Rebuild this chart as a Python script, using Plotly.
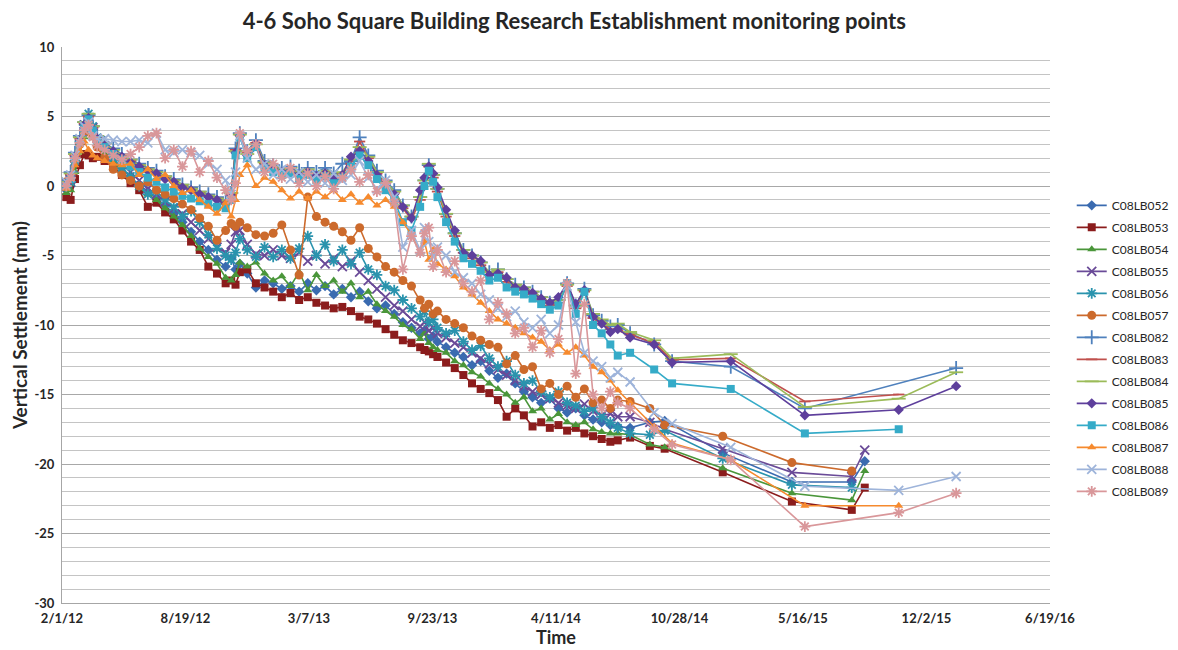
import plotly.graph_objects as go

# ---------------- data ----------------
dense_dates = [
    '2012-02-08', '2012-02-15', '2012-02-22', '2012-03-01', '2012-03-08', '2012-03-15',
    '2012-03-22', '2012-03-29', '2012-04-10', '2012-04-24', '2012-05-08', '2012-05-22',
    '2012-06-05', '2012-06-19', '2012-07-03', '2012-07-17', '2012-07-31', '2012-08-14',
    '2012-08-28', '2012-09-11', '2012-09-25', '2012-10-09', '2012-10-23', '2012-11-01',
    '2012-11-08', '2012-11-15', '2012-11-27', '2012-12-11', '2012-12-25', '2013-01-08',
    '2013-01-22', '2013-02-05', '2013-02-19', '2013-03-05', '2013-03-19', '2013-04-02',
    '2013-04-16', '2013-04-30', '2013-05-14', '2013-05-28', '2013-06-11', '2013-06-25',
    '2013-07-09', '2013-07-23', '2013-08-06', '2013-08-20', '2013-09-03', '2013-09-10',
    '2013-09-17', '2013-09-24', '2013-10-01', '2013-10-15', '2013-10-29', '2013-11-12',
    '2013-11-26', '2013-12-10', '2013-12-24', '2014-01-07', '2014-01-21', '2014-02-04',
    '2014-02-18', '2014-03-04', '2014-03-18', '2014-04-01', '2014-04-15', '2014-04-29',
    '2014-05-13', '2014-05-27', '2014-06-10', '2014-06-24', '2014-07-08', '2014-07-20',
]
tail_dates_a = ['2014-08-09', '2014-09-10', '2014-10-04', '2015-01-06',
                '2015-04-28', '2015-08-03', '2015-08-24']
tail_dates_b = ['2014-08-09', '2014-09-17', '2014-10-16', '2015-01-19',
                '2015-05-19', '2015-10-18', '2016-01-19']

c052 = [-0.3, 0.0, 1.5, 3.0, 4.2, 5.0, 4.0, 3.2, 2.6, 1.9, 1.3, 0.6,
        0.1, -0.4, -0.9, -1.4, -2.0, -2.6, -3.3, -4.0, -4.6, -5.3, -5.8, -5.2,
        -6.0, -5.6, -6.3, -7.3, -6.8, -7.0, -7.4, -7.2, -7.6, -7.0, -7.5, -7.2,
        -7.8, -7.4, -8.0, -7.6, -8.3, -8.8, -8.6, -9.2, -9.8, -10.2, -10.6, -10.4,
        -11.0, -10.8, -11.2, -11.6, -12.0, -12.3, -12.9, -12.6, -13.3, -13.8, -13.5, -14.2,
        -14.8, -15.2, -15.6, -15.3, -16.0, -16.3, -16.0, -16.5, -16.8, -17.0, -17.2, -17.3,
        -17.4, -17.0, -16.9, -19.2, -21.3, -21.3, -19.8]
c053 = [-0.8, -1.0, 0.5, 1.5, 2.3, 2.2, 2.0, 2.1, 1.8, 1.4, 0.8, 0.2,
        -0.3, -1.5, -1.2, -1.9, -2.4, -3.2, -4.0, -4.6, -5.8, -6.3, -7.0, -6.8,
        -7.1, -6.2, -6.0, -7.0, -7.3, -7.6, -8.0, -7.7, -8.2, -8.0, -8.4, -8.6,
        -8.8, -8.7, -9.0, -9.4, -9.6, -9.9, -10.3, -10.7, -11.1, -11.3, -11.6, -11.8,
        -11.9, -12.1, -12.3, -12.7, -13.1, -13.6, -14.2, -14.6, -14.9, -15.4, -16.6, -16.0,
        -16.5, -17.3, -17.0, -17.4, -17.2, -17.6, -17.4, -17.8, -18.0, -18.2, -18.4, -18.3,
        -18.1, -18.7, -18.9, -20.6, -22.7, -23.3, -21.7]
c054 = [-0.5, -0.3, 1.0, 2.5, 3.5, 4.6, 3.5, 2.8, 2.3, 1.8, 1.0, 0.5,
        -0.1, -0.6, -1.0, -1.6, -2.2, -2.8, -3.6, -4.5, -5.1, -5.6, -6.6, -6.8,
        -6.4, -5.5, -5.8, -5.5, -6.3, -6.8, -6.5, -7.2, -6.2, -7.5, -6.4, -7.2,
        -6.8, -7.6, -7.0, -8.0, -7.6, -8.5, -9.0, -9.4, -10.0, -10.3, -11.0, -10.6,
        -11.3, -11.6, -11.8, -12.0, -12.6, -12.9, -13.4, -13.7, -14.2, -14.6, -15.0, -15.6,
        -15.2, -16.2, -16.0, -16.8, -16.4, -17.0, -17.2, -17.0, -17.5, -17.7, -17.8, -17.8,
        -17.9, -18.6, -18.8, -20.3, -22.1, -22.6, -20.5]
c055 = [0.2, 0.5, 2.0, 3.3, 4.4, 4.8, 4.2, 3.4, 2.9, 2.2, 1.6, 1.0,
        0.4, -0.2, -0.6, -1.1, -1.6, -2.0, -2.6, -3.2, -3.8, -4.4, -4.8, -4.2,
        -3.3, -3.2, -4.2, -4.9, -5.0, -4.6, -5.0, -5.2, -4.8, -5.4, -5.0, -5.6,
        -5.2, -5.8, -5.4, -6.2, -6.8, -7.4, -8.0, -8.6, -9.0, -9.6, -10.1, -9.8,
        -10.4, -10.2, -10.6, -10.9, -11.3, -11.6, -12.0, -12.4, -12.8, -13.2, -13.6, -14.0,
        -14.4, -14.8, -15.0, -15.3, -15.6, -15.8, -16.0, -15.7, -16.2, -16.5, -16.4, -16.6,
        -16.6, -17.0, -17.5, -18.9, -20.6, -20.9, -19.0]
c056 = [0.0, 0.3, 1.8, 3.2, 4.4, 5.2, 4.3, 3.5, 2.8, 2.0, 1.3, 0.7,
        0.0, -0.6, -0.4, -1.0, -1.5, -2.2, -1.8, -2.6, -3.5, -4.5, -5.0, -5.3,
        -4.8, -3.8, -4.6, -5.1, -4.4, -5.1, -4.6, -5.2, -4.5, -3.6, -5.0, -4.2,
        -5.4, -4.6, -5.6, -4.8, -6.0, -6.4, -7.2, -7.5, -8.2, -8.8, -9.4, -9.0,
        -9.8, -9.6, -10.2, -10.6, -10.4, -11.2, -11.8, -11.5, -12.4, -13.0, -12.6, -13.6,
        -14.2, -14.0, -14.8, -15.2, -14.8, -15.6, -15.8, -16.2, -16.0, -16.6, -17.0, -17.4,
        -17.8, -17.9, -17.6, -19.6, -21.5, -21.7, None]
c057 = [0.3, 0.6, 1.8, 3.0, 3.8, 4.3, 3.6, 2.8, 2.0, 1.2, 0.8, 0.4,
        0.0, 0.3, -0.3, -0.6, -0.9, -1.3, -1.7, -2.3, -2.9, -3.9, -3.2, -2.7,
        -2.9, -2.6, -3.0, -3.5, -3.6, -3.4, -2.8, -4.6, -6.4, -0.8, -2.2, -2.6,
        -2.9, -3.3, -3.9, -3.0, -4.5, -5.1, -5.8, -6.2, -6.8, -7.2, -8.2, -8.8,
        -8.5, -9.2, -9.0, -9.6, -9.9, -10.2, -10.8, -11.1, -11.4, -11.6, -12.8, -12.2,
        -13.2, -13.0, -14.6, -14.2, -15.0, -14.4, -15.2, -14.6, -15.6, -15.4, -16.0, -15.4,
        -15.5, -16.0, -17.2, -18.0, -19.9, -20.5, None]
c082 = [0.4, 1.0, 2.4, 3.6, 4.6, 5.1, 4.3, 3.6, 3.1, 2.7, 2.3, 1.9,
        1.6, 1.3, 1.1, 0.7, 0.5, 0.1, -0.1, -0.4, -0.6, -0.8, -1.1, -0.5,
        2.7, 3.8, 2.5, 3.3, 1.8, 1.5, 1.3, 1.4, 1.1, 1.3, 1.0, 1.3,
        0.9, 1.6, 1.8, 3.5, 2.2, 1.1, 0.4, -0.3, -1.4, -2.2, -0.8, 0.4,
        1.5, 0.8, -0.2, -2.0, -3.4, -4.6, -5.0, -5.5, -6.2, -6.0, -6.7, -7.1,
        -7.3, -7.6, -8.0, -8.4, -8.2, -7.0, -8.6, -7.4, -9.3, -9.7, -10.1, -10.0,
        -10.6, -11.4, -12.6, -13.0, -16.0, None, -13.1]
c083 = [0.2, 0.8, 2.2, 3.4, 4.5, 5.0, 4.2, 3.5, 3.0, 2.6, 2.2, 1.8,
        1.5, 1.2, 1.0, 0.6, 0.4, 0.0, -0.2, -0.5, -0.7, -0.9, -1.2, -0.6,
        2.6, 3.7, 2.4, 3.1, 1.6, 1.3, 1.1, 1.2, 0.9, 1.1, 0.8, 1.0,
        0.6, 0.9, 1.6, 3.2, 2.0, 0.9, 0.2, -0.5, -1.6, -2.4, -1.0, 0.2,
        1.4, 0.6, -0.4, -2.2, -3.6, -4.8, -5.2, -5.7, -6.4, -6.2, -6.9, -7.3,
        -7.5, -7.8, -8.2, -8.6, -8.4, -7.2, -8.8, -7.6, -9.5, -9.9, -10.3, -10.4,
        -10.7, -11.3, -12.5, -12.4, -15.5, -15.0, None]
c084 = [0.3, 0.9, 2.3, 3.5, 4.6, 5.2, 4.3, 3.6, 3.1, 2.6, 2.2, 1.9,
        1.5, 1.2, 1.0, 0.7, 0.4, 0.1, -0.2, -0.4, -0.7, -0.9, -1.1, -0.5,
        2.5, 3.7, 2.3, 3.0, 1.7, 1.4, 1.1, 1.3, 1.0, 1.2, 0.8, 1.1,
        0.7, 1.0, 1.9, 2.8, 2.1, 1.0, 0.3, -0.4, -1.4, -2.2, -0.8, 0.4,
        1.6, 0.8, -0.2, -2.0, -3.4, -4.6, -5.0, -5.5, -6.2, -6.0, -6.7, -7.1,
        -7.3, -7.6, -8.0, -8.4, -8.2, -7.1, -8.6, -7.5, -9.2, -9.6, -10.0, -9.9,
        -10.5, -11.1, -12.4, -12.1, -15.9, -15.3, -13.4]
c085 = [0.1, 0.7, 2.1, 3.3, 4.4, 4.9, 4.1, 3.4, 2.9, 2.5, 2.1, 1.7,
        1.4, 1.1, 0.9, 0.5, 0.3, -0.1, -0.3, -0.6, -0.8, -1.0, -1.3, -0.7,
        2.4, 3.6, 2.2, 3.0, 1.5, 1.2, 1.0, 1.1, 0.8, 1.0, 0.7, 0.9,
        0.5, 0.8, 2.1, 2.5, 1.8, 0.8, 0.1, -0.6, -1.5, -2.3, -0.3, 0.6,
        1.4, 0.9, -0.1, -1.7, -3.2, -4.8, -5.0, -5.4, -6.4, -6.3, -6.6, -7.3,
        -7.4, -7.7, -8.1, -8.4, -8.0, -7.0, -8.5, -7.5, -9.4, -9.9, -10.5, -10.3,
        -10.9, -11.4, -12.7, -12.6, -16.5, -16.1, -14.4]
c086 = [0.0, 0.5, 1.9, 3.1, 4.2, 4.8, 4.0, 3.3, 2.8, 2.3, 1.9, 1.4,
        1.0, 0.6, 0.3, -0.1, -0.4, -0.7, -0.9, -1.1, -1.3, -1.5, -1.6, -1.0,
        2.2, 3.5, 2.0, 2.8, 1.3, 1.0, 0.8, 0.9, 0.5, 0.8, 0.4, 0.7,
        0.2, 0.6, 1.4, 2.2, 1.5, 0.5, -0.3, -1.0, -2.6, -3.2, -1.5, 0.0,
        1.1, 0.3, -0.8, -2.6, -4.0, -5.2, -5.6, -6.1, -6.8, -6.6, -7.3, -7.6,
        -7.8, -8.1, -8.5, -8.9, -8.6, -7.0, -9.2, -7.6, -10.0, -10.6, -11.4, -12.2,
        -12.0, -13.2, -14.2, -14.6, -17.8, -17.5, None]
c087 = [-0.2, 0.5, 1.5, 2.5, 3.2, 2.6, 2.2, 2.0, 1.8, 1.6, 1.5, 1.6,
        0.8, 1.2, 0.5, 0.8, 0.0, -0.5, -0.3, -1.0, -1.5, -2.0, -1.2, -2.2,
        -1.0, 0.8, 1.5, 0.0, 0.6, 0.3, -0.3, -0.9, -0.4, -0.9, -0.4, -0.8,
        -0.3, -1.0, -0.6, -1.2, -0.8, -1.4, -1.0, -1.5, -2.6, -3.5, -4.8, -4.0,
        -5.3, -4.6, -5.6, -6.0, -6.5, -7.3, -7.8, -8.4, -9.0, -9.6, -9.9, -10.2,
        -10.6, -10.9, -11.2, -11.8, -11.4, -12.0, -11.6, -12.2, -13.0, -13.4, -14.0, -14.7,
        -15.6, -17.3, -18.5, -19.7, -23.0, -23.0, None]
c088 = [0.3, 0.8, 2.2, 3.4, 4.3, 4.6, 3.6, 3.4, 3.4, 3.3, 3.2, 3.2,
        3.3, 3.1, 3.8, 2.6, 2.4, 2.6, 2.4, 2.2, 1.6, 1.2, 0.4, -0.6,
        1.0, 3.6, 2.0, 1.2, 1.6, 0.8, 1.2, 0.5, 1.0, 0.3, 0.8, 0.2,
        0.9, 0.4, 0.8, 1.8, 0.6, -0.2, 0.4, -0.8, -4.4, -3.2, -4.6, -3.0,
        -4.0, -5.1, -4.4, -5.0, -6.2, -6.6, -7.0, -7.8, -8.2, -8.8, -9.4, -9.0,
        -9.8, -10.2, -9.6, -10.6, -10.0, -7.2, -9.8, -12.0, -12.6, -13.0, -13.8, -13.4,
        -14.1, -16.3, -17.1, -18.8, -21.6, -21.9, -20.9]
c089 = [0.0, 0.6, 2.0, 3.1, 4.0, 4.4, 3.5, 2.9, 2.6, 2.2, 1.9, 2.3,
        2.8, 3.6, 3.8, 2.0, 2.6, 1.4, 2.5, 1.0, 1.8, 0.6, -0.3, -1.0,
        0.2, 3.8, 2.5, 3.0, 1.0, 1.6, 0.6, 1.3, 0.2, 0.9, 0.0, 0.7,
        -0.2, 0.6, 1.2, 0.3, 0.8, -0.4, 0.2, -1.2, -6.0, -3.6, -4.8, -3.4,
        -3.0, -5.8, -4.6, -6.2, -5.4, -7.0, -7.6, -6.8, -9.6, -8.4, -9.2, -10.6,
        -10.2, -11.6, -10.4, -12.0, -11.0, -7.0, -13.5, -8.5, -15.0, -16.0, -14.8, -15.6,
        -16.0, -17.5, -18.6, -19.7, -24.5, -23.5, -22.1]

series_names = ['C08LB052', 'C08LB053', 'C08LB054', 'C08LB055', 'C08LB056', 'C08LB057',
                'C08LB082', 'C08LB083', 'C08LB084', 'C08LB085', 'C08LB086', 'C08LB087',
                'C08LB088', 'C08LB089']
series_values = [c052, c053, c054, c055, c056, c057,
                 c082, c083, c084, c085, c086, c087, c088, c089]
series_group = ['a', 'a', 'a', 'a', 'a', 'a', 'b', 'b', 'b', 'b', 'b', 'b', 'b', 'b']

tick_dates = ['2012-02-01', '2012-08-19', '2013-03-07', '2013-09-23', '2014-04-11',
              '2014-10-28', '2015-05-16', '2015-12-02', '2016-06-19']
tick_labels = ['2/1/12', '8/19/12', '3/7/13', '9/23/13', '4/11/14',
               '10/28/14', '5/16/15', '12/2/15', '6/19/16']
y_tick_values = [-30, -25, -20, -15, -10, -5, 0, 5, 10]
y_tick_labels = ['-30', '-25', '-20', '-15', '-10', '-5', '0', '5', '10']

# ---------------- styles ----------------
colors = ['#3A6BB0', '#8B1C1C', '#4A963A', '#6A4B98', '#2A93AD', '#CC6A2C',
          '#4F81BD', '#C0504D', '#9BBB59', '#5E3F9C', '#35ABC8', '#F68A2E',
          '#9EB4DA', '#D9979A']
symbols = ['diamond', 'square', 'triangle-up', 'x-thin-open', 'asterisk-open', 'circle',
           'cross-thin-open', 'line-ew-open', 'line-ew-open', 'diamond', 'square',
           'triangle-up', 'x-thin-open', 'asterisk-open']
sizes = [8, 8, 8, 9, 9, 9, 10, 8, 10, 8, 8, 8, 9, 9]

fig = go.Figure()
for name, vals, grp, col, sym, sz in zip(series_names, series_values, series_group,
                                         colors, symbols, sizes):
    xs = dense_dates + (tail_dates_a if grp == 'a' else tail_dates_b)
    is_open = sym.endswith('-open')
    fig.add_trace(go.Scatter(
        x=xs, y=vals, name=name, mode='lines+markers', connectgaps=True,
        legendgroup=name,
        line=dict(color=col, width=1.6),
        marker=dict(symbol=sym, size=sz, color=col,
                    line=dict(color=col, width=1.8 if is_open else 0)),
    ))

# The page adds an 8 px body margin, so the figure is sized 8 px smaller and
# its margins are shifted so the plot lands where the reference has it.
fig.update_layout(
    width=1170, height=642,
    paper_bgcolor='white', plot_bgcolor='white',
    margin=dict(l=54, r=128, t=39, b=47, autoexpand=False),
    font=dict(family='Lato, Open Sans, sans-serif', color='#262626'),
    title=dict(text='4-6 Soho Square Building Research Establishment monitoring points',
               x=0.484, xanchor='center', y=0.991, yanchor='top', yref='container',
               pad=dict(t=0, b=0),
               font=dict(size=22, weight='bold', color='#262626')),
    legend=dict(x=1.022, xanchor='left', y=0.458, yanchor='middle',
                font=dict(size=12, color='#262626'), itemwidth=30,
                tracegroupgap=3, bgcolor='rgba(0,0,0,0)'),
    showlegend=True,
)
fig.update_xaxes(
    type='date', range=['2012-02-01', '2016-06-19'], automargin=False,
    tickmode='array', tickvals=tick_dates, ticktext=tick_labels,
    tickfont=dict(size=13, weight='bold', color='#262626'),
    showgrid=False, zeroline=False, showline=True, linecolor='#a6a6a6', linewidth=1,
    ticks='', ticklabelstandoff=3,
    title=dict(text='Time', font=dict(size=18, weight='bold', color='#262626'), standoff=4),
)
fig.update_yaxes(
    range=[-30, 10], automargin=False,
    tickmode='array', tickvals=y_tick_values, ticktext=y_tick_labels,
    tickfont=dict(size=13, weight='bold', color='#262626'),
    showgrid=True, gridcolor='#a8a8a8', gridwidth=1,
    minor=dict(dtick=1, showgrid=True, gridcolor='#c4c4c4', gridwidth=1),
    zeroline=False, showline=True, linecolor='#a6a6a6', linewidth=1, ticks='',
    ticklabelstandoff=4,
    title=dict(text='Vertical Settlement (mm)',
               font=dict(size=19, weight='bold', color='#262626'), standoff=4),
)

fig.write_html('out.html')
